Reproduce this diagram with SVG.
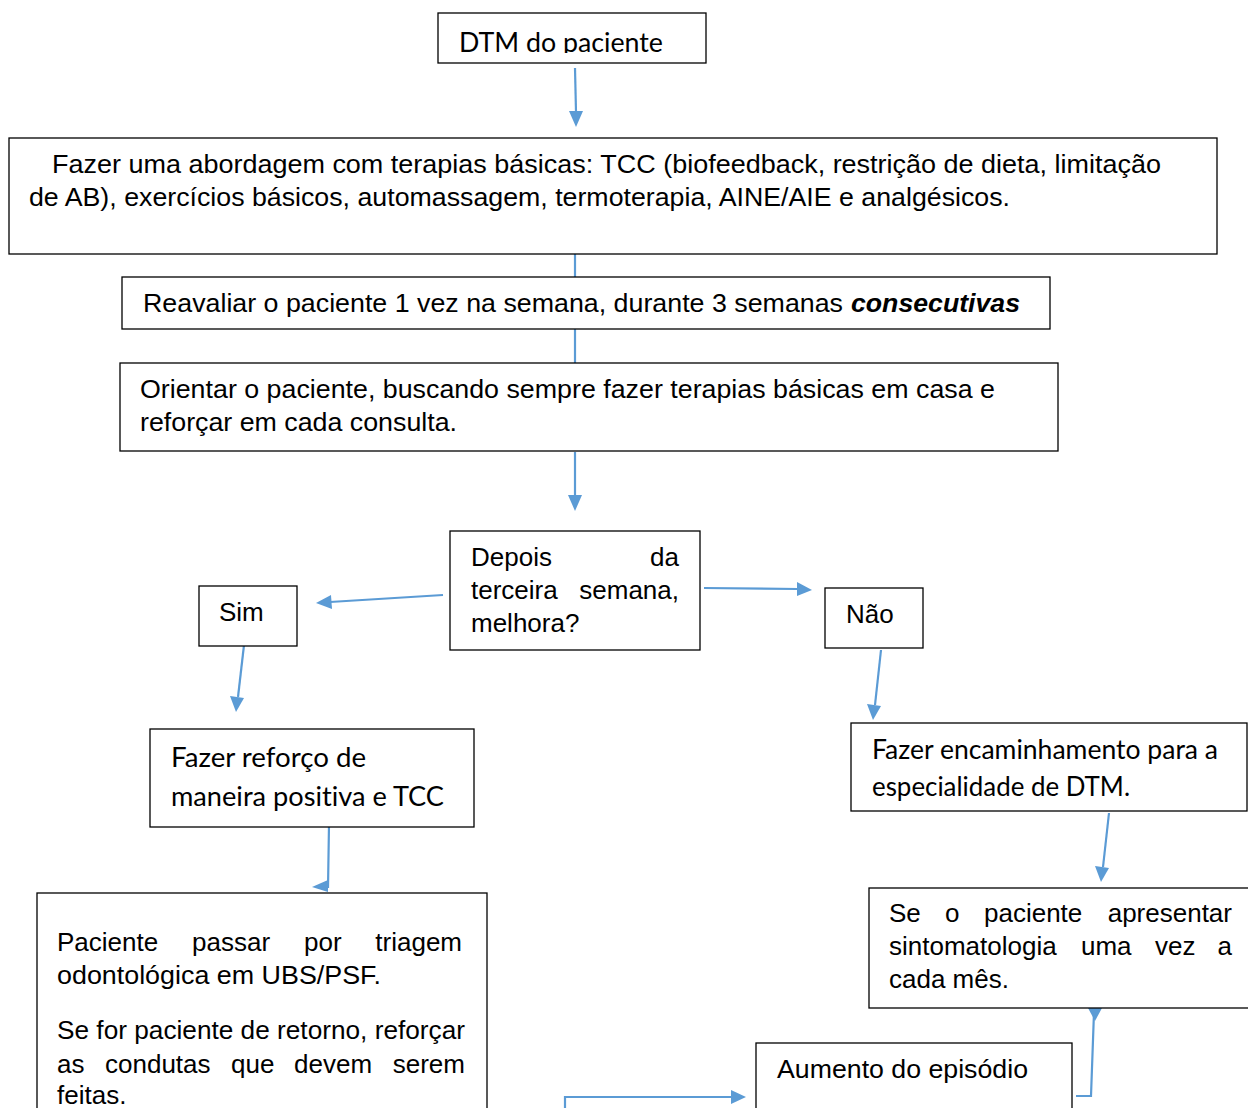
<svg xmlns="http://www.w3.org/2000/svg" width="1248" height="1108" viewBox="0 0 1248 1108">
<style>
.box{fill:#fff;stroke:#000;stroke-width:1.3}
.a{font-family:"Liberation Sans",Arial,sans-serif;font-size:26px;fill:#000}
.e{text-anchor:end}
.c{font-family:Lato,"Open Sans",sans-serif;font-size:27px;fill:#000;font-variant-ligatures:none}
.bi{font-weight:bold;font-style:italic}
.ln{fill:none;stroke:#5B9BD5;stroke-width:2.2}
.hd{fill:#5B9BD5}
</style>
<defs>
<clipPath id="clip1"><rect x="438" y="13" width="268" height="40"/></clipPath>
</defs>
<rect width="1248" height="1108" fill="#fff"/>

<g id="connectors">
<line class="ln" x1="575" y1="68" x2="576" y2="112"/>
<polygon class="hd" points="569,111 583,111 576,127"/>
<line class="ln" x1="575" y1="254" x2="575" y2="277"/>
<line class="ln" x1="575" y1="329" x2="575" y2="363"/>
<line class="ln" x1="575" y1="452" x2="575" y2="496"/>
<polygon class="hd" points="568,495 582,495 575,511"/>
<line class="ln" x1="443" y1="595" x2="330" y2="602"/>
<polygon class="hd" points="331,595 332,609 316,603"/>
<line class="ln" x1="704" y1="588" x2="798" y2="589"/>
<polygon class="hd" points="797,582 797,596 812,590"/>
<line class="ln" x1="244" y1="645" x2="238" y2="697"/>
<polygon class="hd" points="230,696 244,698 236,712"/>
<line class="ln" x1="881" y1="650" x2="875" y2="705"/>
<polygon class="hd" points="867,704 881,706 873,720"/>
<line class="ln" x1="1109" y1="813" x2="1103" y2="867"/>
<polygon class="hd" points="1095,866 1109,868 1101,882"/>
<polyline class="ln" points="345,824.5 329,824.5 328,888"/>
<polygon class="hd" points="328,880 328,892 312,887"/>
<polyline class="ln" points="1094,1012 1091,1096 1076,1096"/>
<polygon class="hd" points="1088,1008 1102,1008 1095,1021"/>
<polyline class="ln" points="565,1108 565,1097 732,1097"/>
<polygon class="hd" points="731,1090 731,1104 746,1097"/>
</g>

<g id="n1">
<rect class="box" x="438" y="13" width="268" height="50"/>
<text class="c" x="459" y="52" textLength="204" lengthAdjust="spacingAndGlyphs" clip-path="url(#clip1)">DTM do paciente</text>
</g>

<g id="n2">
<rect class="box" x="9" y="138" width="1208" height="116"/>
<text class="a" x="52" y="173" textLength="1109" lengthAdjust="spacingAndGlyphs">Fazer uma abordagem com terapias básicas: TCC (biofeedback, restrição de dieta, limitação</text>
<text class="a" x="29" y="206" textLength="981" lengthAdjust="spacingAndGlyphs">de AB), exercícios básicos, automassagem, termoterapia, AINE/AIE e analgésicos.</text>
</g>

<g id="n3">
<rect class="box" x="122" y="277" width="928" height="52"/>
<text class="a" x="143" y="312" textLength="700" lengthAdjust="spacingAndGlyphs">Reavaliar o paciente 1 vez na semana, durante 3 semanas</text>
<text class="a bi" x="851" y="312" textLength="169" lengthAdjust="spacingAndGlyphs">consecutivas</text>
</g>

<g id="n4">
<rect class="box" x="120" y="363" width="938" height="88"/>
<text class="a" x="140" y="398" textLength="855" lengthAdjust="spacingAndGlyphs">Orientar o paciente, buscando sempre fazer terapias básicas em casa e</text>
<text class="a" x="140" y="431" textLength="317" lengthAdjust="spacingAndGlyphs">reforçar em cada consulta.</text>
</g>

<g id="n5">
<rect class="box" x="450" y="531" width="250" height="119"/>
<text class="a" x="471" y="566">Depois</text>
<text class="a e" x="679" y="566">da</text>
<text class="a" x="471" y="599">terceira</text>
<text class="a e" x="679" y="599">semana,</text>
<text class="a" x="471" y="632">melhora?</text>
</g>

<g id="n6">
<rect class="box" x="199" y="586" width="98" height="60"/>
<text class="a" x="219" y="621">Sim</text>
</g>

<g id="n7">
<rect class="box" x="825" y="588" width="98" height="60"/>
<text class="a" x="846" y="623">Não</text>
</g>

<g id="n8">
<rect class="box" x="150" y="729" width="324" height="98"/>
<text class="c" x="171" y="767" textLength="195" lengthAdjust="spacingAndGlyphs">Fazer reforço de</text>
<text class="c" x="171" y="806" textLength="273" lengthAdjust="spacingAndGlyphs">maneira positiva e TCC</text>
</g>

<g id="n9">
<rect class="box" x="851" y="723" width="396" height="88"/>
<text class="c" x="872" y="759" font-size="25" textLength="346" lengthAdjust="spacingAndGlyphs">Fazer encaminhamento para a</text>
<text class="c" x="872" y="796" font-size="25" textLength="258" lengthAdjust="spacingAndGlyphs">especialidade de DTM.</text>
</g>

<g id="n10">
<rect class="box" x="869" y="888" width="380" height="120"/>
<text class="a" x="889" y="922">Se</text>
<text class="a" x="945" y="922">o</text>
<text class="a" x="984" y="922">paciente</text>
<text class="a e" x="1232" y="922">apresentar</text>
<text class="a" x="889" y="955">sintomatologia</text>
<text class="a" x="1081" y="955">uma</text>
<text class="a" x="1155" y="955">vez</text>
<text class="a e" x="1232" y="955">a</text>
<text class="a" x="889" y="988">cada mês.</text>
</g>

<g id="n11">
<rect class="box" x="756" y="1043" width="316" height="80"/>
<text class="a" x="777" y="1078" textLength="251" lengthAdjust="spacingAndGlyphs">Aumento do episódio</text>
</g>

<g id="n12">
<rect class="box" x="37" y="893" width="450" height="230"/>
<text class="a" x="57" y="951">Paciente</text>
<text class="a" x="192" y="951">passar</text>
<text class="a" x="304" y="951">por</text>
<text class="a e" x="462" y="951">triagem</text>
<text class="a" x="57" y="984" textLength="324" lengthAdjust="spacingAndGlyphs">odontológica em UBS/PSF.</text>
<text class="a" x="57" y="1039" textLength="408" lengthAdjust="spacingAndGlyphs">Se for paciente de retorno, reforçar</text>
<text class="a" x="57" y="1073">as</text>
<text class="a" x="105" y="1073">condutas</text>
<text class="a" x="231" y="1073">que</text>
<text class="a" x="294" y="1073">devem</text>
<text class="a e" x="465" y="1073">serem</text>
<text class="a" x="57" y="1104">feitas.</text>
</g>
</svg>
